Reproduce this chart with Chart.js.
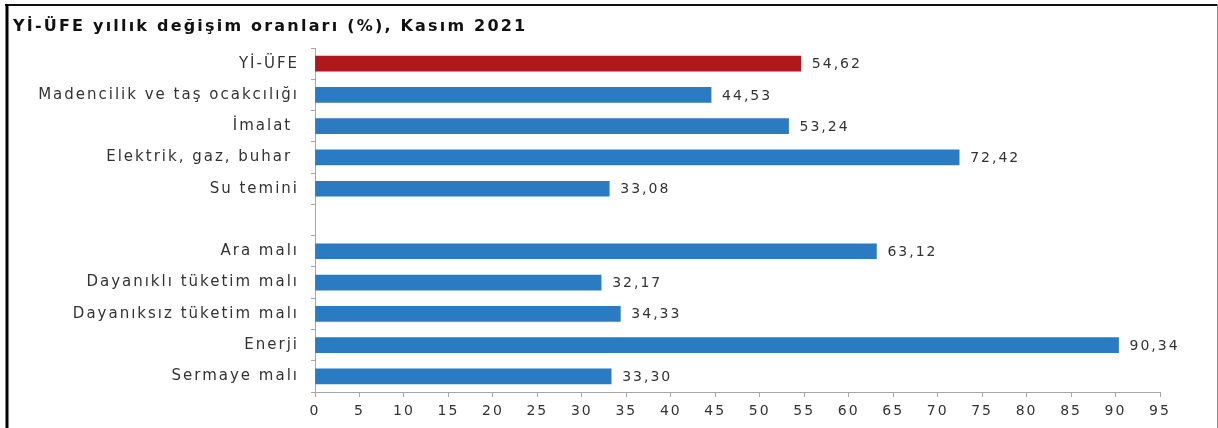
<!DOCTYPE html>
<html lang="tr">
<head>
    <meta charset="UTF-8">
    <title>Yİ-ÜFE yıllık değişim oranları</title>
    <script src="https://cdn.jsdelivr.net/npm/chart.js"></script>
    <style>
        body { margin: 0; background: #fff; }
        .chart-container { position: relative; width: 1218px; height: 428px; }
    </style>
</head>
<body>
    <div class="chart-container">
        <canvas id="ufeChart"></canvas>
    </div>

    <script>
        // --- Data ---
        const titleText = 'Yİ-ÜFE yıllık değişim oranları (%), Kasım 2021';
        const categories = [
            'Yİ-ÜFE',
            'Madencilik ve taş ocakcılığı',
            'İmalat ',
            'Elektrik, gaz, buhar ',
            'Su temini',
            '',                      // empty gap row
            'Ara malı',
            'Dayanıklı tüketim malı',
            'Dayanıksız tüketim malı',
            'Enerji',
            'Sermaye malı'
        ];
        const values = [54.62, 44.53, 53.24, 72.42, 33.08, null, 63.12, 32.17, 34.33, 90.34, 33.30];
        const axisMin = 0;
        const axisMax = 95;
        const axisStep = 5;

        const RED = '#b0181c';
        const BLUE = '#2b7bc3';
        const AXIS_GREY = '#a6a6a6';
        const TEXT = '#333333';

        Chart.defaults.font.family = "'DejaVu Sans', sans-serif";

        // the reference text is drawn wide, so space the letters out a bit
        const letterSpacingPlugin = {
            id: 'letterSpacing',
            beforeDraw(chart) {
                chart.ctx.letterSpacing = '2px';
            }
        };

        // value labels at the end of each bar
        const valueLabels = {
            id: 'valueLabels',
            afterDatasetsDraw(chart) {
                const ctx = chart.ctx;
                const meta = chart.getDatasetMeta(0);
                ctx.save();
                ctx.font = "14px 'DejaVu Sans'";
                ctx.fillStyle = TEXT;
                ctx.textAlign = 'left';
                ctx.textBaseline = 'middle';
                meta.data.forEach((bar, i) => {
                    const v = values[i];
                    if (v === null) return;
                    ctx.fillText(v.toFixed(2).replace('.', ','), bar.x + 11, bar.y + 1);
                });
                ctx.restore();
            }
        };

        // title and the frame round the picture
        const frame = {
            id: 'frame',
            afterDraw(chart) {
                const ctx = chart.ctx;
                ctx.save();
                ctx.letterSpacing = '2.2px';
                ctx.font = "bold 16px 'DejaVu Sans'";
                ctx.fillStyle = '#111';
                ctx.textAlign = 'left';
                ctx.textBaseline = 'alphabetic';
                ctx.fillText(titleText, 13, 31);

                ctx.strokeStyle = '#111';
                ctx.lineWidth = 2;
                ctx.beginPath();
                ctx.moveTo(5, 5);
                ctx.lineTo(1218, 5);
                ctx.stroke();

                ctx.strokeStyle = '#000';
                ctx.lineWidth = 3;
                ctx.beginPath();
                ctx.moveTo(7, 4);
                ctx.lineTo(7, 428);
                ctx.stroke();

                ctx.strokeStyle = '#888';
                ctx.lineWidth = 1;
                ctx.beginPath();
                ctx.moveTo(1217.5, 4);
                ctx.lineTo(1217.5, 428);
                ctx.stroke();
                ctx.restore();
            }
        };

        const config = {
            type: 'bar',
            data: {
                labels: categories,
                datasets: [{
                    data: values,
                    backgroundColor: values.map((v, i) => i === 0 ? RED : BLUE),
                    barThickness: 15
                }]
            },
            options: {
                indexAxis: 'y',
                responsive: true,
                maintainAspectRatio: false,
                animation: false,
                layout: {
                    padding: { top: 48, right: 58, bottom: 0, left: 0 }
                },
                plugins: {
                    legend: { display: false },
                    title: { display: false },
                    tooltip: { enabled: false }
                },
                scales: {
                    x: {
                        min: axisMin,
                        max: axisMax,
                        afterFit(scale) { scale.height = 36; },
                        ticks: {
                            stepSize: axisStep,
                            autoSkip: false,
                            maxRotation: 0,
                            padding: 6,
                            color: TEXT,
                            font: { size: 14 }
                        },
                        grid: {
                            drawOnChartArea: false,
                            drawTicks: true,
                            tickLength: 5,
                            color: AXIS_GREY
                        },
                        border: { color: AXIS_GREY, width: 1 }
                    },
                    y: {
                        afterFit(scale) { scale.width = 315; },
                        ticks: {
                            padding: 12,
                            color: TEXT,
                            font: { size: 15 }
                        },
                        grid: {
                            offset: true,
                            drawOnChartArea: false,
                            drawTicks: true,
                            tickLength: 4,
                            color: AXIS_GREY
                        },
                        border: { color: AXIS_GREY, width: 1 }
                    }
                }
            },
            plugins: [letterSpacingPlugin, valueLabels, frame]
        };

        new Chart(document.getElementById('ufeChart'), config);
    </script>
</body>
</html>
